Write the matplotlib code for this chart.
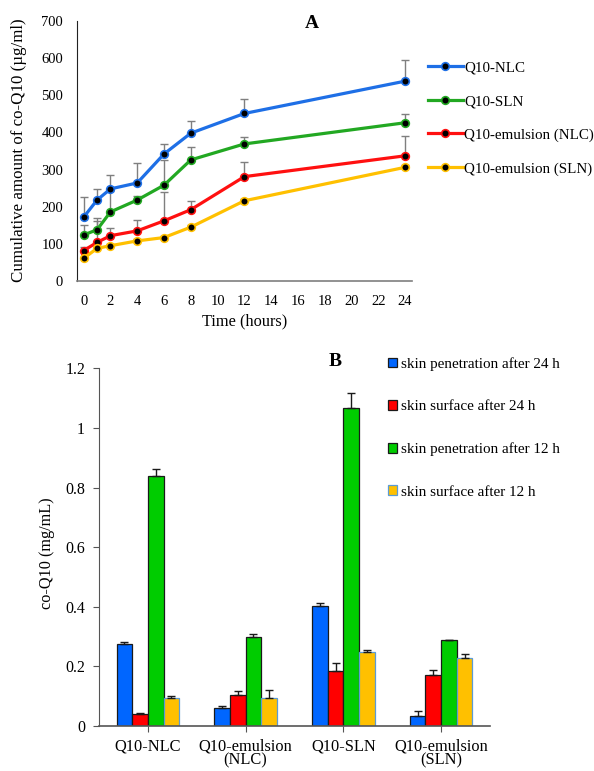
#!/usr/bin/env python
# coding: utf-8

import numpy as np
import matplotlib
matplotlib.use('Agg')
import matplotlib.pyplot as plt

plt.rcParams['font.family'] = ['Liberation Serif', 'DejaVu Serif']

# panel A: cumulative release
time_h = [0, 1, 2, 4, 6, 8, 12, 24]
series_names = ['Q10-NLC', 'Q10-SLN', 'Q10-emulsion (NLC)', 'Q10-emulsion (SLN)']
nlc = [172, 218, 248, 264, 342, 398, 451, 538]
nlc_err = [53, 30, 38, 54, 28, 32, 40, 58]
sln = [124, 138, 186, 218, 258, 326, 369, 426]
sln_err = [26, 32, 55, 11, 67, 35, 18, 24]
emu_nlc = [82, 104, 122, 135, 162, 192, 281, 337]
emu_nlc_err = [10, 58, 20, 29, 77, 23, 39, 53]
emu_sln = [61, 88, 95, 108, 117, 145, 216, 306]
emu_sln_err = [4, 5, 4, 4, 5, 5, 6, 6]

# panel B: skin penetration / surface
categories = ['Q10-NLC', 'Q10-emulsion\n(NLC)', 'Q10-SLN', 'Q10-emulsion\n(SLN)']
bar_names = ['skin penetration after 24 h', 'skin surface after 24 h',
             'skin penetration after 12 h', 'skin surface after 12 h']
pen_24 = [0.274, 0.060, 0.404, 0.034]
pen_24_err = [0.009, 0.006, 0.010, 0.015]
surf_24 = [0.040, 0.104, 0.185, 0.170]
surf_24_err = [0.005, 0.013, 0.027, 0.017]
pen_12 = [0.839, 0.297, 1.068, 0.288]
pen_12_err = [0.023, 0.012, 0.048, 0.002]
surf_12 = [0.093, 0.093, 0.249, 0.228]
surf_12_err = [0.007, 0.028, 0.005, 0.015]

line_colors = ['#1E6FE6', '#22A822', '#FF1010', '#FFC000']
bar_colors = ['#0066FF', '#FF0000', '#00CC00', '#FFC000']
bar_edges = ['#1a1a1a', '#1a1a1a', '#1a1a1a', '#5B9BD5']

W, H = 594, 771
fig = plt.figure(figsize=(W / 100, H / 100), dpi=100)

def frac_box(l, t, r, b):
    return [l / W, 1 - b / H, (r - l) / W, (b - t) / H]

# ---------- A ----------
axA = fig.add_axes(frac_box(77, 21, 411.7, 281))
values = [nlc, sln, emu_nlc, emu_sln]
errors = [nlc_err, sln_err, emu_nlc_err, emu_sln_err]
for vals, errs, c, name in zip(values, errors, line_colors, series_names):
    axA.errorbar(time_h, vals, yerr=[np.zeros(len(errs)), errs], fmt='none',
                 ecolor='#7f7f7f', elinewidth=1, capsize=3, capthick=1, zorder=2)
    axA.plot(time_h, vals, color=c, lw=2.3, marker='o', ms=5.5,
             mfc='black', mec=c, mew=1.2, label=name, zorder=3)

axA.set_xlim(-0.5, 24.5)
axA.set_ylim(0, 700)
axA.set_xticks(np.arange(0, 25, 2))
axA.set_yticks(np.arange(0, 701, 100))
axA.tick_params(length=0, labelsize=10.5, pad=10)
for s in ['top', 'right']:
    axA.spines[s].set_visible(False)
axA.spines['left'].set_color('#222222')
axA.spines['bottom'].set_color('#7f7f7f')
axA.spines['bottom'].set_linewidth(1.2)

fig.text(19 / W, 1 - 150 / H, 'Cumulative amount of co-Q10 (µg/ml)', rotation=90,
         ha='center', va='center', fontsize=12.2)
fig.text(245 / W, 1 - 321.7 / H, 'Time (hours)', ha='center', va='center', fontsize=11.8)
fig.text(312 / W, 1 - 24 / H, 'A', ha='center', va='center', fontsize=14, fontweight='bold')

axA.legend(loc='upper left', bbox_to_anchor=(428 / W, 1 - 61 / H),
           bbox_transform=fig.transFigure, frameon=False, fontsize=10.8,
           handlelength=2.3, handletextpad=0.1, labelspacing=1.34,
           borderpad=0, borderaxespad=0)

# ---------- B ----------
axB = fig.add_axes(frac_box(99, 368.3, 490, 726))
x = np.arange(len(categories))
width = 0.16
offsets = [-1.5, -0.5, 0.5, 1.5]
bvals = [pen_24, surf_24, pen_12, surf_12]
berrs = [pen_24_err, surf_24_err, pen_12_err, surf_12_err]
for vals, errs, c, ec, off, name in zip(bvals, berrs, bar_colors, bar_edges, offsets, bar_names):
    axB.bar(x + off * width, vals, width, color=c, edgecolor=ec, linewidth=0.9, label=name,
            yerr=[np.zeros(len(errs)), errs], capsize=3,
            error_kw=dict(ecolor='#1a1a1a', elinewidth=1, capthick=1))

axB.set_xlim(-0.5, 3.5)
axB.set_ylim(0, 1.2)
axB.set_xticks(x)
axB.set_xticklabels(categories, linespacing=0.85)
axB.set_yticks(np.arange(0, 1.21, 0.2))
axB.set_yticklabels(['0', '0.2', '0.4', '0.6', '0.8', '1', '1.2'])
axB.tick_params(axis='y', direction='out', length=4, labelsize=11.5, pad=6, color='#555555')
axB.tick_params(axis='x', direction='out', length=4, labelsize=11.8, pad=5, color='#555555')
for s in ['top', 'right']:
    axB.spines[s].set_visible(False)
axB.spines['left'].set_color('#555555')
axB.spines['bottom'].set_color('#555555')
axB.spines['bottom'].set_linewidth(1.2)

fig.text(46.7 / W, 1 - 553 / H, 'co-Q10 (mg/mL)', rotation=90,
         ha='center', va='center', fontsize=11.7)
fig.text(335 / W, 1 - 362 / H, 'B', ha='center', va='center', fontsize=14, fontweight='bold')

axB.legend(loc='upper left', bbox_to_anchor=(388 / W, 1 - 357 / H),
           bbox_transform=fig.transFigure, frameon=False, fontsize=10.9,
           handlelength=0.6, handleheight=0.6, handletextpad=0.25, labelspacing=1.93,
           borderpad=0, borderaxespad=0)

plt.savefig('out.png', dpi=100)
